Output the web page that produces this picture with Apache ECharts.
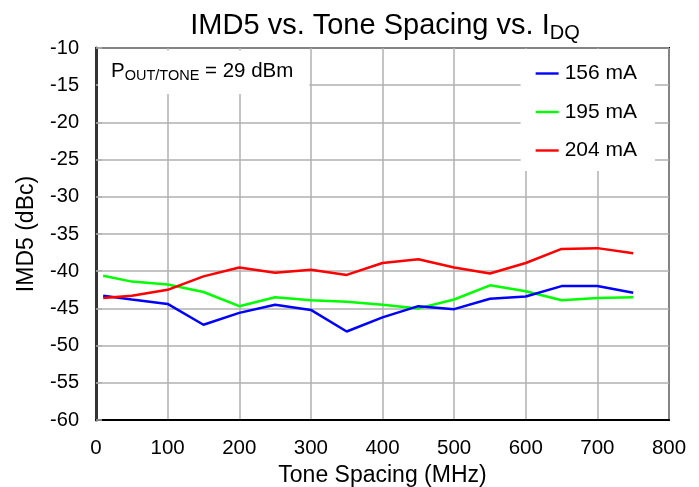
<!DOCTYPE html>
<html>
<head>
<meta charset="utf-8">
<script src="https://cdn.jsdelivr.net/npm/echarts@6/dist/echarts.min.js"></script>
<style>
  html, body { margin: 0; padding: 0; background: #fff; }
  #chart { width: 699px; height: 487px; }
</style>
</head>
<body>
<div id="chart"></div>
<script>
const spacing = [10, 50, 100, 150, 200, 250, 300, 350, 400, 450, 500, 550, 600, 650, 700, 750]
const imd156 = [-43.3, -43.8, -44.4, -47.2, -45.6, -44.5, -45.2, -48.1, -46.2, -44.7, -45.1, -43.7, -43.4, -42.0, -42.0, -42.9]
const imd195 = [-40.6, -41.4, -41.8, -42.8, -44.7, -43.5, -43.9, -44.1, -44.5, -45.0, -43.8, -41.9, -42.7, -43.9, -43.6, -43.5]
const imd204 = [-43.6, -43.3, -42.5, -40.7, -39.5, -40.2, -39.8, -40.5, -38.9, -38.4, -39.5, -40.3, -38.9, -37.0, -36.9, -37.6]

const pairs = (ys) => spacing.map((x, i) => [x, ys[i]])
const font = 'Liberation Sans, Arial, Helvetica, sans-serif'
const gridColor = '#b0b0b0'

const chart = echarts.init(document.getElementById('chart'), null, { renderer: 'canvas' })

chart.setOption({
  animation: false,
  textStyle: { fontFamily: font, color: '#000' },
  title: [
    {
      text: 'IMD5 vs. Tone Spacing vs. I{s|DQ}',
      left: 380,
      top: 4,
      textAlign: 'center',
      textStyle: {
        fontSize: 29,
        fontWeight: 'normal',
        color: '#000',
        fontFamily: font,
        rich: { s: { fontSize: 20, verticalAlign: 'bottom', padding: [14, 0, 0, 0], fontFamily: font } }
      }
    },
    {
      text: 'P{s|OUT/TONE} = 29 dBm',
      left: 98,
      top: 49,
      backgroundColor: '#fff',
      padding: [10, 16, 11, 13],
      textStyle: {
        fontSize: 20.5,
        fontWeight: 'normal',
        color: '#000',
        fontFamily: font,
        rich: { s: { fontSize: 14.5, verticalAlign: 'bottom', padding: [9, 0, 0, 0], fontFamily: font } }
      }
    }
  ],
  legend: {
    orient: 'vertical',
    right: 44,
    top: 49,
    backgroundColor: '#fff',
    padding: [14, 18, 10, 15],
    itemGap: 17.5,
    itemWidth: 23,
    itemHeight: 20,
    icon: 'path://M0,9 L23,9 L23,11.4 L0,11.4 Z',
    textStyle: { fontSize: 21, fontFamily: font, color: '#000', padding: [0, 0, 0, 1] },
    data: ['156 mA', '195 mA', '204 mA']
  },
  grid: {
    left: 96,
    right: 30,
    top: 48,
    bottom: 67,
    show: true,
    borderColor: '#000',
    borderWidth: 2,
    containLabel: false,
    outerBoundsMode: 'none'
  },
  xAxis: {
    type: 'value',
    min: 0,
    max: 800,
    interval: 100,
    name: 'Tone Spacing (MHz)',
    nameLocation: 'middle',
    nameGap: 37,
    nameTextStyle: { fontSize: 23, fontFamily: font, color: '#000' },
    axisLine: { show: true, lineStyle: { color: '#000', width: 2 } },
    axisTick: { show: false },
    axisLabel: { fontSize: 20.5, color: '#000', margin: 18, fontFamily: font },
    splitLine: { show: true, lineStyle: { color: gridColor, width: 1.5 } }
  },
  yAxis: {
    type: 'value',
    min: -60,
    max: -10,
    interval: 5,
    name: 'IMD5 (dBc)',
    nameLocation: 'middle',
    nameGap: 58,
    nameRotate: 90,
    nameTextStyle: { fontSize: 23, fontFamily: font, color: '#000' },
    axisLine: { show: true, lineStyle: { color: '#333', width: 3 } },
    axisTick: { show: true, inside: true, length: 6, lineStyle: { color: gridColor, width: 1.5 } },
    axisLabel: { fontSize: 20, color: '#000', margin: 17, fontFamily: font },
    splitLine: { show: true, lineStyle: { color: gridColor, width: 1.5 } }
  },
  series: [
    {
      name: '156 mA',
      type: 'line',
      data: pairs(imd156),
      showSymbol: false,
      lineStyle: { color: '#0000ff', width: 2.5 },
      itemStyle: { color: '#0000ff' },
      z: 3
    },
    {
      name: '195 mA',
      type: 'line',
      data: pairs(imd195),
      showSymbol: false,
      lineStyle: { color: '#00ff00', width: 2.5 },
      itemStyle: { color: '#00ff00' },
      z: 2
    },
    {
      name: '204 mA',
      type: 'line',
      data: pairs(imd204),
      showSymbol: false,
      lineStyle: { color: '#ff0000', width: 2.5 },
      itemStyle: { color: '#ff0000' },
      z: 4
    }
  ]
})

window.addEventListener('resize', function () {
  chart.resize()
})
</script>
</body>
</html>
